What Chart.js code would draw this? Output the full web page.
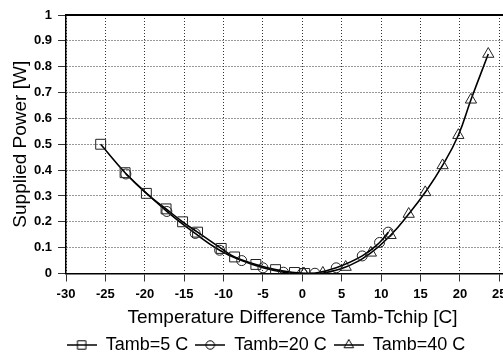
<!DOCTYPE html>
<html>
<head>
<meta charset="utf-8">
<script src="https://cdn.jsdelivr.net/npm/chart.js@4.4.0/dist/chart.umd.min.js"></script>
<style>
  html, body { margin: 0; padding: 0; background: #fff; overflow: hidden; }
</style>
</head>
<body>
<canvas id="powerChart" width="527" height="354"></canvas>
<script>
// values: temperature difference [C] vs supplied power [W]
const tamb5X  = [-25.6, -22.5, -19.8, -17.3, -15.2, -13.3, -10.3, -8.6, -5.9, -3.4, -1.0, 0.3];
const tamb5Y  = [0.50, 0.39, 0.31, 0.25, 0.20, 0.16, 0.097, 0.064, 0.035, 0.015, 0.004, 0.0];
const tamb20X = [-22.4, -17.2, -13.6, -10.5, -7.7, -5.0, -2.4, 0.0, 1.6, 4.3, 7.6, 9.8, 10.9];
const tamb20Y = [0.385, 0.24, 0.155, 0.09, 0.05, 0.022, 0.005, 0.0, 0.001, 0.022, 0.068, 0.12, 0.16];
const tamb40X = [0.2, 2.6, 5.5, 8.7, 11.2, 13.5, 15.6, 17.8, 19.8, 21.4, 23.6];
const tamb40Y = [0.0, 0.002, 0.025, 0.08, 0.148, 0.23, 0.314, 0.418, 0.535, 0.672, 0.849];

const seriesLabels = ["Tamb=5 C", "Tamb=20 C", "Tamb=40 C"];
const markerStyles = ["rect", "circle", "triangle"];
const markerSizes = [7, 5, 6.5];

const toPoints = (xs, ys) => xs.map((x, i) => ({ x: x, y: ys[i] }));
const seriesData = [
  toPoints(tamb5X, tamb5Y),
  toPoints(tamb20X, tamb20Y),
  toPoints(tamb40X, tamb40Y)
];

// little line+marker pictures for the legend (hollow markers, line through)
function legendIcon(style, size) {
  const c = document.createElement("canvas");
  c.width = 30;
  c.height = 16;
  const ctx = c.getContext("2d");
  ctx.strokeStyle = "#000";
  ctx.fillStyle = "rgba(0,0,0,0)";
  ctx.lineWidth = 1.5;
  ctx.beginPath();
  ctx.moveTo(0, 8);
  ctx.lineTo(30, 8);
  ctx.stroke();
  ctx.lineWidth = 1;
  Chart.helpers.drawPoint(ctx, { pointStyle: style, radius: size, rotation: 0, borderWidth: 1 }, 15, 8);
  return c;
}
const icons = markerStyles.map((s, i) => legendIcon(s, markerSizes[i] * 0.85));

const gridStyle = {
  color: "#333",
  tickLength: 8
};
const tickFont = { family: "Liberation Sans, Arial", size: 13, weight: "bold" };

new Chart(document.getElementById("powerChart"), {
  type: "line",
  data: {
    datasets: seriesData.map((pts, i) => ({
      label: seriesLabels[i],
      data: pts,
      borderColor: "#000",
      borderWidth: 1.6,
      tension: 0.45,
      fill: false,
      pointStyle: markerStyles[i],
      pointRadius: markerSizes[i],
      pointBorderColor: "#222",
      pointBorderWidth: 1,
      pointBackgroundColor: "rgba(0,0,0,0)"
    }))
  },
  options: {
    responsive: false,
    animation: false,
    layout: { padding: { left: 5, top: 15, right: 0, bottom: -10 } },
    scales: {
      x: {
        type: "linear",
        min: -30,
        max: 27.5,
        grid: gridStyle,
        border: { color: "#000", width: 1.5, dash: [1, 2] },
        ticks: {
          stepSize: 5,
          includeBounds: false,
          padding: 5,
          color: "#000",
          font: tickFont
        },
        title: {
          display: true,
          text: "Temperature Difference Tamb-Tchip [C]",
          color: "#000",
          padding: { top: 0, bottom: 1 },
          font: { family: "Liberation Sans, Arial", size: 19, lineHeight: 1.1 }
        }
      },
      xTop: {
        type: "linear",
        position: "top",
        min: -30,
        max: 27.5,
        ticks: { display: false },
        grid: { drawOnChartArea: false, drawTicks: false },
        border: { color: "#000", width: 2 }
      },
      y: {
        min: 0,
        max: 1,
        afterFit: (scale) => { scale.width = 61; },
        grid: gridStyle,
        border: { color: "#000", width: 1.5, dash: [1, 2] },
        ticks: {
          stepSize: 0.1,
          padding: 6,
          color: "#000",
          font: tickFont,
          callback: (value) => String(parseFloat(value.toFixed(2)))
        },
        title: {
          display: true,
          text: "Supplied Power [W]",
          color: "#000",
          font: { family: "Liberation Sans, Arial", size: 19 }
        }
      }
    },
    plugins: {
      legend: {
        position: "bottom",
        labels: {
          usePointStyle: true,
          pointStyleWidth: 30,
          padding: 7,
          color: "#000",
          font: { family: "Liberation Sans, Arial", size: 18 },
          generateLabels: (chart) => {
            const items = Chart.defaults.plugins.legend.labels.generateLabels(chart);
            items.forEach((item, i) => { item.pointStyle = icons[i]; });
            return items;
          }
        }
      },
      tooltip: { enabled: false }
    }
  }
});
</script>
</body>
</html>
